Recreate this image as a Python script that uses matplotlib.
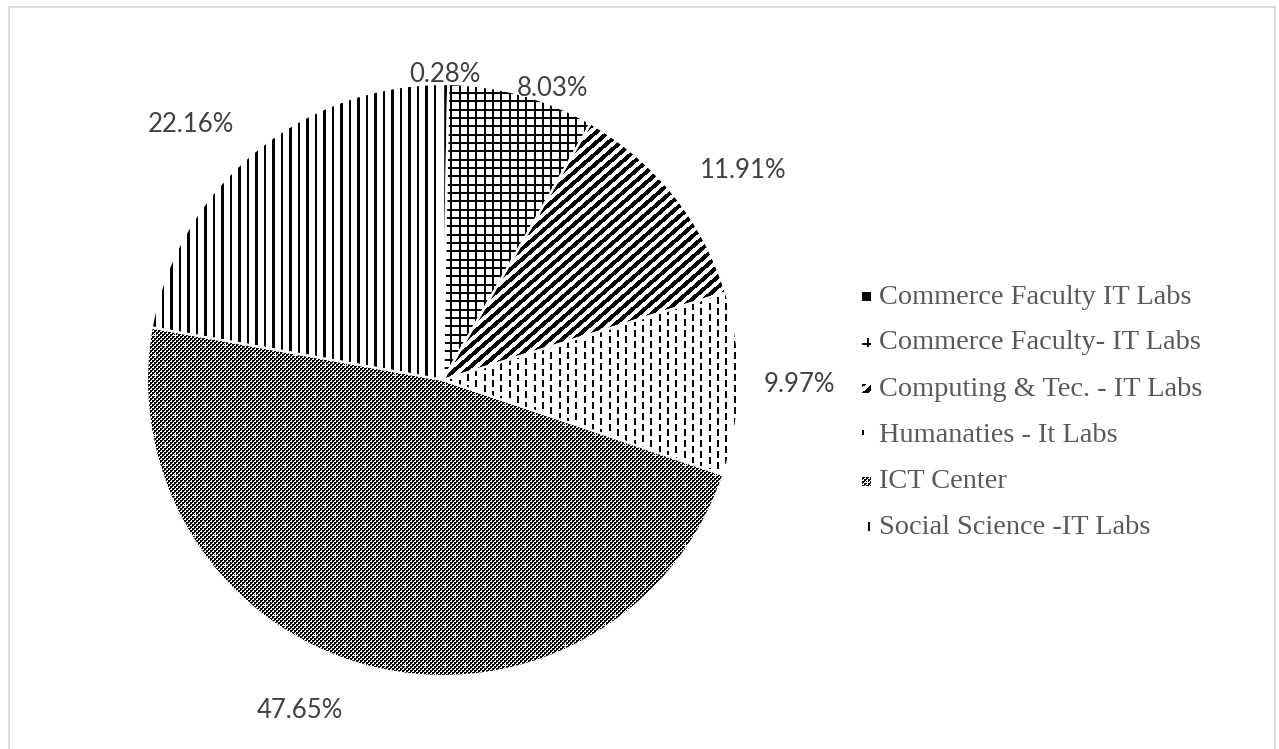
import numpy as np
import matplotlib
matplotlib.use("Agg")
import matplotlib.pyplot as plt
from matplotlib.patches import Rectangle
from matplotlib.offsetbox import OffsetImage, AnnotationBbox

# ---------------- data ----------------
categories = [
    "Commerce Faculty IT Labs",
    "Commerce Faculty- IT Labs",
    "Computing & Tec. - IT Labs",
    "Humanaties - It Labs",
    "ICT Center",
    "Social Science -IT Labs",
]
shares = [0.28, 8.03, 11.91, 9.97, 47.65, 22.16]
pct_labels = ["0.28%", "8.03%", "11.91%", "9.97%", "47.65%", "22.16%"]

# ---------------- layout ----------------
W, H, DPI = 1279, 749, 100
CX, CY, R = 443, 380, 296          # pie centre / radius in pixels (from top-left)
HALF = 320                         # half size of pie axes in pixels
label_px = [(445, 75), (553, 89), (743, 170), (799, 385), (300, 710), (191, 125)]
legend_top, legend_step = 297, 46
legend_marker_x, legend_text_x = 866, 879

fig = plt.figure(figsize=(W / DPI, H / DPI), dpi=DPI)
fig.patch.set_facecolor("white")
fig.patches.append(Rectangle((8.5 / W, -0.02), (1275 - 8.5) / W, (H - 6.5) / H + 0.02,
                             transform=fig.transFigure, fill=False,
                             edgecolor="#d9d9d9", linewidth=1.3))

ax = fig.add_axes([(CX - HALF) / W, (H - CY - HALF) / H, 2 * HALF / W, 2 * HALF / H])
L = HALF / R


# ---------------- fill patterns (pixel based) ----------------
def pat_solid(X, Y):
    return np.ones_like(X, dtype=bool)


def pat_grid(X, Y):
    return ((X % 8.33) < 2) | ((Y % 8.33) < 2)


def pat_diag(X, Y):
    m = X + 1.15 * Y
    return (m % 12.0) < 6.2


def pat_dash(X, Y):
    col = np.floor(X / 8.33).astype(int)
    inx = (X % 8.33) < 2
    yy = ((Y + (col % 2) * 5.5) % 11.0) < 7
    return inx & yy


def pat_check(X, Y):
    base = ((X // 2 + Y // 2) % 2) == 0
    extra = ((X % 2) == 0) & ((Y % 2) == 0)
    spots = ((X % 10) == 5) & ((Y % 10) >= 4) & ((Y % 10) < 6) | \
            ((Y % 10) == 5) & ((X % 10) >= 4) & ((X % 10) < 6)
    return (base | extra) & ~spots


def pat_vert(X, Y):
    return (X % 8.5) < 2.2


patterns = [pat_solid, pat_grid, pat_diag, pat_dash, pat_check, pat_vert]

N = 2 * HALF
X, Y = np.meshgrid(np.arange(N) + (CX - HALF), np.arange(N) + (CY - HALF))


def to_rgba(mask):
    img = np.zeros(mask.shape + (4,))
    img[mask] = [0, 0, 0, 1]
    return img


# ---------------- pie ----------------
wedges, _ = ax.pie(shares, startangle=90, counterclock=False, radius=1,
                   wedgeprops=dict(facecolor="white", edgecolor="none", zorder=1))
for w, pf in zip(wedges, patterns):
    ax.imshow(to_rgba(pf(X, Y)), extent=(-L, L, -L, L), origin="upper",
              interpolation="nearest", zorder=2, clip_path=w)
ax.pie(shares, startangle=90, counterclock=False, radius=1,
       wedgeprops=dict(facecolor="none", edgecolor="white", linewidth=1.6, zorder=3))
ax.set_xlim(-L, L)
ax.set_ylim(-L, L)
ax.set_aspect("equal")
ax.axis("off")

# ---------------- percentage labels ----------------
for txt, (px, py) in zip(pct_labels, label_px):
    fig.text(px / W, 1 - py / H, txt, ha="center", va="center",
             fontsize=18.5, color="#404040", family=["Lato", "DejaVu Sans"])

# ---------------- legend ----------------
marker_off = [(0, 0), (4, 4), (3, 0), (0, 2), (0, 0), (3, 0)]
for i, (lab, pf) in enumerate(zip(categories, patterns)):
    y = legend_top + i * legend_step
    ox, oy = marker_off[i]
    mx, my = np.meshgrid(np.arange(9) + ox, np.arange(9) + oy)
    mk = pf(mx, my)
    img = np.ones((9, 9, 4))
    img[mk] = [0, 0, 0, 1]
    ib = OffsetImage(img, zoom=1, dpi_cor=False, interpolation="nearest")
    ab = AnnotationBbox(ib, (legend_marker_x / W, 1 - y / H), xycoords="figure fraction",
                        frameon=False, pad=0)
    fig.add_artist(ab)
    fig.text(legend_text_x / W, 1 - y / H, lab, ha="left", va="center",
             fontsize=20.4, color="#595959", family="Liberation Serif")

fig.savefig("out.png", dpi=DPI, facecolor="white")
